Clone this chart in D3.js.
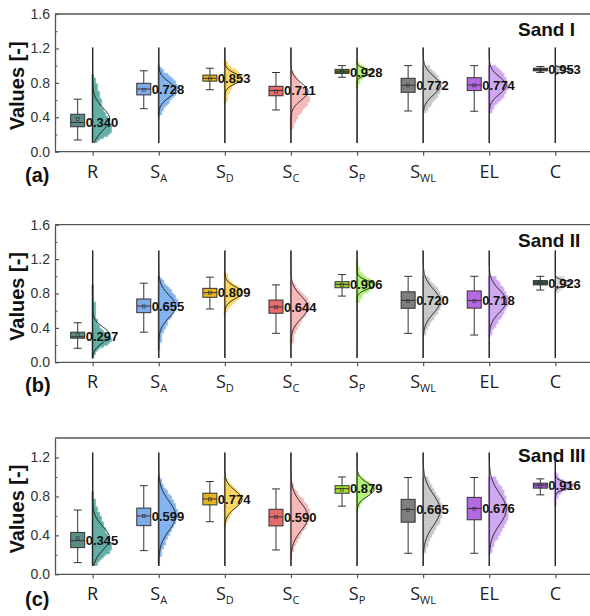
<!DOCTYPE html>
<html>
<head>
<meta charset="utf-8">
<script src="https://cdn.jsdelivr.net/npm/d3@7"></script>
<style>
  body { margin: 0; background: #fff; }
  svg { display: block; font-family: "Liberation Sans", Arial, sans-serif; }
</style>
</head>
<body>
<div id="chart"></div>
<script>
// categories (main letter + subscript)
var catMain = ['R', 'S', 'S', 'S', 'S', 'S', 'EL', 'C'];
var catSub = ['', 'A', 'D', 'C', 'P', 'WL', '', ''];
var categories = ['R', 'S_A', 'S_D', 'S_C', 'S_P', 'S_WL', 'EL', 'C'];

var panelNames = ['Sand I', 'Sand II', 'Sand III'];
var panelTags = ['(a)', '(b)', '(c)'];
var yMaxes = [1.6, 1.6, 1.4];
var yTicksA = [0, 0.4, 0.8, 1.2, 1.6];
var yTicksC = [0, 0.4, 0.8, 1.2];
var yMinorA = [0.2, 0.6, 1.0, 1.4];
var yMinorC = [0.2, 0.6, 1.0];

// box stats: [whisker low, q1, median, q3, whisker high]
var boxSandI = [
  [0.136, 0.29, 0.340, 0.435, 0.61],
  [0.50, 0.66, 0.728, 0.795, 0.94],
  [0.72, 0.82, 0.853, 0.89, 0.97],
  [0.485, 0.65, 0.711, 0.76, 0.92],
  [0.865, 0.91, 0.928, 0.957, 1.0],
  [0.473, 0.69, 0.772, 0.853, 1.0],
  [0.47, 0.71, 0.774, 0.86, 1.0],
  [0.92, 0.94, 0.953, 0.97, 0.99]
];
var boxSandII = [
  [0.163, 0.28, 0.297, 0.35, 0.46],
  [0.35, 0.577, 0.655, 0.736, 0.92],
  [0.62, 0.756, 0.809, 0.86, 0.99],
  [0.337, 0.57, 0.644, 0.724, 0.90],
  [0.77, 0.867, 0.906, 0.937, 1.02],
  [0.337, 0.628, 0.720, 0.82, 1.0],
  [0.317, 0.63, 0.718, 0.83, 1.0],
  [0.84, 0.90, 0.923, 0.95, 1.0]
];
var boxSandIII = [
  [0.12, 0.274, 0.345, 0.43, 0.66],
  [0.243, 0.50, 0.599, 0.68, 0.91],
  [0.54, 0.713, 0.774, 0.833, 0.953],
  [0.25, 0.497, 0.590, 0.668, 0.877],
  [0.70, 0.833, 0.879, 0.91, 1.0],
  [0.216, 0.535, 0.665, 0.77, 0.994],
  [0.216, 0.56, 0.676, 0.79, 0.994],
  [0.816, 0.885, 0.916, 0.936, 0.98]
];

// normal curve fit: mean and sd
var meanSandI = [0.38, 0.72, 0.85, 0.70, 0.925, 0.77, 0.77, 0.95];
var sdSandI = [0.13, 0.09, 0.06, 0.10, 0.035, 0.11, 0.10, 0.02];
var meanSandII = [0.32, 0.65, 0.81, 0.64, 0.90, 0.71, 0.71, 0.92];
var sdSandII = [0.09, 0.13, 0.07, 0.13, 0.05, 0.14, 0.13, 0.03];
var meanSandIII = [0.37, 0.60, 0.77, 0.59, 0.87, 0.66, 0.67, 0.91];
var sdSandIII = [0.12, 0.15, 0.09, 0.14, 0.07, 0.16, 0.16, 0.035];

// vertical baseline range of the half violins
var lineRanges = [[0.1, 1.21], [0.05, 1.3], [0.085, 1.25]];

// point clouds as histograms (bins of 0.05), first bin start, relative widths
var histStartSandI = [0.10, 0.40, 0.55, 0.25, 0.75, 0.45, 0.45, 0.90];
var histSandI = [
  [0.3, 0.7, 1.0, 1.0, 0.95, 0.85, 0.7, 0.6, 0.5, 0.45, 0.4, 0.35, 0.3, 0.25, 0.15, 0.08],
  [0.1, 0.2, 0.35, 0.55, 0.75, 0.9, 1.0, 0.95, 0.85, 0.6, 0.3, 0.1],
  [0.1, 0.15, 0.2, 0.3, 0.5, 0.8, 1.0, 0.7, 0.4, 0.15],
  [0.1, 0.2, 0.3, 0.45, 0.6, 0.8, 0.95, 1.0, 0.9, 0.75, 0.55, 0.4, 0.25, 0.1],
  [0.1, 0.2, 0.4, 0.7, 0.5, 0.1],
  [0.2, 0.35, 0.5, 0.7, 0.85, 1.0, 1.0, 0.9, 0.8, 0.6, 0.35],
  [0.15, 0.3, 0.5, 0.7, 0.85, 0.95, 1.0, 0.95, 0.85, 0.7, 0.4],
  [0.2, 0.4]
];
var histStartSandII = [0.05, 0.15, 0.55, 0.20, 0.70, 0.30, 0.30, 0.80];
var histSandII = [
  [0.1, 0.2, 0.5, 0.9, 1.0, 0.8, 0.5, 0.35, 0.25, 0.2, 0.15, 0.15, 0.12, 0.1, 0.1, 0.08, 0.06],
  [0.05, 0.1, 0.15, 0.2, 0.3, 0.4, 0.5, 0.65, 0.8, 0.9, 1.0, 0.95, 0.85, 0.7, 0.5, 0.3, 0.1],
  [0.1, 0.2, 0.4, 0.6, 0.9, 1.0, 0.7, 0.4, 0.2, 0.1],
  [0.1, 0.15, 0.2, 0.3, 0.4, 0.55, 0.7, 0.85, 0.95, 1.0, 0.9, 0.75, 0.5, 0.3, 0.1],
  [0.15, 0.3, 0.6, 0.9, 1.0, 0.6, 0.3, 0.15, 0.1, 0.05],
  [0.1, 0.2, 0.3, 0.45, 0.6, 0.75, 0.9, 1.0, 1.0, 0.95, 0.85, 0.7, 0.5, 0.3],
  [0.1, 0.2, 0.35, 0.5, 0.65, 0.8, 0.9, 1.0, 1.0, 0.95, 0.85, 0.7, 0.55, 0.35],
  [0.2, 0.4, 0.7, 0.5]
];
var histStartSandIII = [0.10, 0.10, 0.50, 0.15, 0.65, 0.20, 0.20, 0.70];
var histSandIII = [
  [0.3, 0.6, 0.9, 1.0, 0.95, 0.85, 0.75, 0.65, 0.55, 0.45, 0.35, 0.25, 0.15, 0.1, 0.05],
  [0.05, 0.1, 0.15, 0.25, 0.35, 0.45, 0.6, 0.75, 0.85, 0.95, 1.0, 0.95, 0.85, 0.7, 0.55, 0.35, 0.2, 0.1],
  [0.1, 0.2, 0.35, 0.55, 0.8, 1.0, 0.9, 0.6, 0.3, 0.1],
  [0.05, 0.1, 0.2, 0.3, 0.45, 0.6, 0.75, 0.9, 1.0, 1.0, 0.95, 0.8, 0.6, 0.4, 0.2, 0.1],
  [0.1, 0.2, 0.4, 0.7, 1.0, 0.8, 0.4, 0.1],
  [0.1, 0.2, 0.3, 0.4, 0.55, 0.7, 0.85, 0.95, 1.0, 1.0, 0.95, 0.85, 0.7, 0.55, 0.4, 0.25],
  [0.1, 0.2, 0.3, 0.45, 0.6, 0.75, 0.9, 1.0, 1.0, 1.0, 0.95, 0.9, 0.8, 0.7, 0.55, 0.4],
  [0.05, 0.1, 0.2, 0.6, 1.0, 0.3, 0.1]
];

var boxColorsSandI = ['#5b8c86', '#7eaae8', '#e6b422', '#e86b6b', '#4f7a12', '#7f7f7f', '#b36ae0', '#3a3a3a'];
var boxColorsSandII = ['#5b8c86', '#7eaae8', '#e6b422', '#e86b6b', '#9acd32', '#7f7f7f', '#b36ae0', '#3c5a57'];
var boxColorsSandIII = ['#5b8c86', '#7eaae8', '#e6b422', '#e86b6b', '#a6e22e', '#7f7f7f', '#b36ae0', '#9a5fd6'];
var dotColorsSandI = ['#14897c', '#4a8fea', '#f7c21a', '#f29a9a', '#8ff03a', '#b0b0b0', '#b77fe8', '#aaaaaa'];
var dotColorsSandII = ['#14897c', '#4a8fea', '#f7c21a', '#f29a9a', '#8ff03a', '#b0b0b0', '#b77fe8', '#c4c4c4'];
var dotColorsSandIII = ['#14897c', '#4a8fea', '#f7c21a', '#f29a9a', '#8ff03a', '#b0b0b0', '#b77fe8', '#b07ee8'];

var W = 590, H = 616;
var svg = d3.select('#chart').append('svg').attr('width', W).attr('height', H);

// pixel frames of the three panels
var frames = [
  {top: 14, bottom: 151.7},
  {top: 224.7, bottom: 362.3},
  {top: 438, bottom: 574.3}
];

var panels = [
  {box: boxSandI, mean: meanSandI, sd: sdSandI, hs: histStartSandI, hist: histSandI, bc: boxColorsSandI, dc: dotColorsSandI, ticks: yTicksA, minor: yMinorA},
  {box: boxSandII, mean: meanSandII, sd: sdSandII, hs: histStartSandII, hist: histSandII, bc: boxColorsSandII, dc: dotColorsSandII, ticks: yTicksA, minor: yMinorA},
  {box: boxSandIII, mean: meanSandIII, sd: sdSandIII, hs: histStartSandIII, hist: histSandIII, bc: boxColorsSandIII, dc: dotColorsSandIII, ticks: yTicksC, minor: yMinorC}
];

var left = 55, right = 590;
var x = d3.scalePoint().domain(categories).range([left, 593]).padding(0.57);
var fmt = d3.format('.3f');
var axisColor = '#555';

// width of a cloud at value v, read between bin centres
function cloudWidth(hist, start, v) {
  var pos = (v - start) / 0.05 - 0.5;
  if (v < start || v > start + hist.length * 0.05) return 0;
  var j = Math.floor(pos);
  var a = hist[Math.max(0, Math.min(hist.length - 1, j))];
  var b = hist[Math.max(0, Math.min(hist.length - 1, j + 1))];
  var t = pos - j;
  return a + (b - a) * t;
}

panels.forEach(function(p, pi) {
  var f = frames[pi];
  var y = d3.scaleLinear().domain([0, yMaxes[pi]]).range([f.bottom, f.top]);
  var g = svg.append('g');

  // top frame line
  g.append('line').attr('x1', left).attr('x2', right).attr('y1', f.top).attr('y2', f.top)
    .attr('stroke', axisColor).attr('stroke-width', 1.3);

  // minor ticks
  g.append('g').attr('transform', 'translate(' + left + ',0)')
    .call(d3.axisLeft(y).tickValues(p.minor).tickSize(-2.5).tickFormat(''))
    .call(function(s) { s.select('.domain').remove(); s.selectAll('line').attr('stroke', axisColor); });

  var ya = g.append('g').attr('transform', 'translate(' + left + ',0)')
    .call(d3.axisLeft(y).tickValues(p.ticks).tickSizeInner(-4).tickSizeOuter(0).tickPadding(5).tickFormat(d3.format('.1f')));
  ya.select('.domain').attr('stroke', axisColor).attr('stroke-width', 1.3);
  ya.selectAll('line').attr('stroke', axisColor).attr('stroke-width', 1.2);
  ya.selectAll('text').attr('font-size', 14).attr('fill', '#333')
    .attr('font-family', '"Liberation Sans", Arial, sans-serif');

  var xa = g.append('g').attr('transform', 'translate(0,' + f.bottom + ')')
    .call(d3.axisBottom(x).tickSizeInner(4).tickSizeOuter(0).tickFormat(''));
  xa.select('.domain').attr('d', 'M' + left + ',0H' + right).attr('stroke', axisColor).attr('stroke-width', 1.3);
  xa.selectAll('line').attr('stroke', axisColor).attr('stroke-width', 1.2);

  // category labels with subscripts
  categories.forEach(function(c, i) {
    var t = g.append('text').attr('x', x(c)).attr('y', f.bottom + 26)
      .attr('text-anchor', 'middle').attr('font-family', '"Open Sans", "Noto Sans", sans-serif')
      .attr('font-size', 18).attr('fill', '#222');
    t.append('tspan').text(catMain[i]);
    if (catSub[i]) t.append('tspan').attr('font-size', 11).attr('dy', 4).text(catSub[i]);
  });

  // y title
  var cy = (f.top + f.bottom) / 2 + 3;
  g.append('text').attr('transform', 'translate(24,' + cy + ') rotate(-90)')
    .attr('text-anchor', 'middle').attr('font-size', 20).attr('font-weight', 'bold').attr('fill', '#111')
    .text('Values [-]');

  // panel tag and name
  g.append('text').attr('x', 25).attr('y', f.bottom + (pi === 2 ? 32 : 30)).attr('font-size', 20)
    .attr('font-weight', 'bold').attr('fill', '#111').text(panelTags[pi]);
  g.append('text').attr('x', 518).attr('y', f.top + (pi === 2 ? 24 : 22)).attr('font-size', 19)
    .attr('font-weight', 'bold').attr('fill', '#111').text(panelNames[pi]);

  var lr = lineRanges[pi];

  categories.forEach(function(c, i) {
    var cx = x(c);
    var hist = p.hist[i], hs = p.hs[i];

    // point cloud (rows of small circles)
    var cloud = g.append('g');
    var yTop = y(hs + hist.length * 0.05), yBot = y(hs);
    for (var yy = yTop + 0.8; yy < yBot; yy += 1.9) {
      var w = cloudWidth(hist, hs, y.invert(yy)) * 19;
      for (var xx = cx; xx <= cx + w; xx += 2) {
        cloud.append('circle').attr('cx', xx).attr('cy', yy).attr('r', 1.15)
          .attr('fill', p.dc[i]).attr('fill-opacity', 0.5)
          .attr('stroke', p.dc[i]).attr('stroke-opacity', 0.6).attr('stroke-width', 0.4);
      }
    }

    // normal curve
    var vals = d3.range(lr[0], lr[1] + 0.0001, 0.004);
    var line = d3.line()
      .x(function(v) { return cx + 17 * Math.exp(-0.5 * Math.pow((v - p.mean[i]) / p.sd[i], 2)); })
      .y(function(v) { return y(v); });
    g.append('path').datum(vals).attr('d', line).attr('fill', 'none')
      .attr('stroke', '#111').attr('stroke-width', 1);

    // vertical baseline
    g.append('line').attr('x1', cx).attr('x2', cx).attr('y1', y(lr[0])).attr('y2', y(lr[1]))
      .attr('stroke', '#222').attr('stroke-width', 1.2);

    // box plot
    var b = p.box[i];
    var bx = cx - 15, bw = 14;
    var bg = g.append('g').attr('stroke', '#333').attr('stroke-width', 1);
    bg.append('line').attr('x1', bx).attr('x2', bx).attr('y1', y(b[0])).attr('y2', y(b[1]));
    bg.append('line').attr('x1', bx).attr('x2', bx).attr('y1', y(b[3])).attr('y2', y(b[4]));
    bg.append('line').attr('x1', bx - 4).attr('x2', bx + 4).attr('y1', y(b[0])).attr('y2', y(b[0]));
    bg.append('line').attr('x1', bx - 4).attr('x2', bx + 4).attr('y1', y(b[4])).attr('y2', y(b[4]));
    bg.append('rect').attr('x', bx - bw / 2).attr('y', y(b[3])).attr('width', bw)
      .attr('height', y(b[1]) - y(b[3])).attr('fill', p.bc[i]);
    bg.append('line').attr('x1', bx - bw / 2).attr('x2', bx + bw / 2).attr('y1', y(b[2])).attr('y2', y(b[2]));
    bg.append('rect').attr('x', bx - 1.5).attr('y', y(p.mean[i]) - 1.5).attr('width', 3).attr('height', 3)
      .attr('fill', 'none').attr('stroke-width', 0.6);

    // median label
    g.append('text').attr('x', bx + bw / 2 + 1).attr('y', y(b[2])).attr('dy', '0.36em')
      .attr('font-size', 13).attr('font-weight', 'bold').attr('fill', '#111')
      .text(fmt(b[2]));
  });
});
</script>
</body>
</html>
